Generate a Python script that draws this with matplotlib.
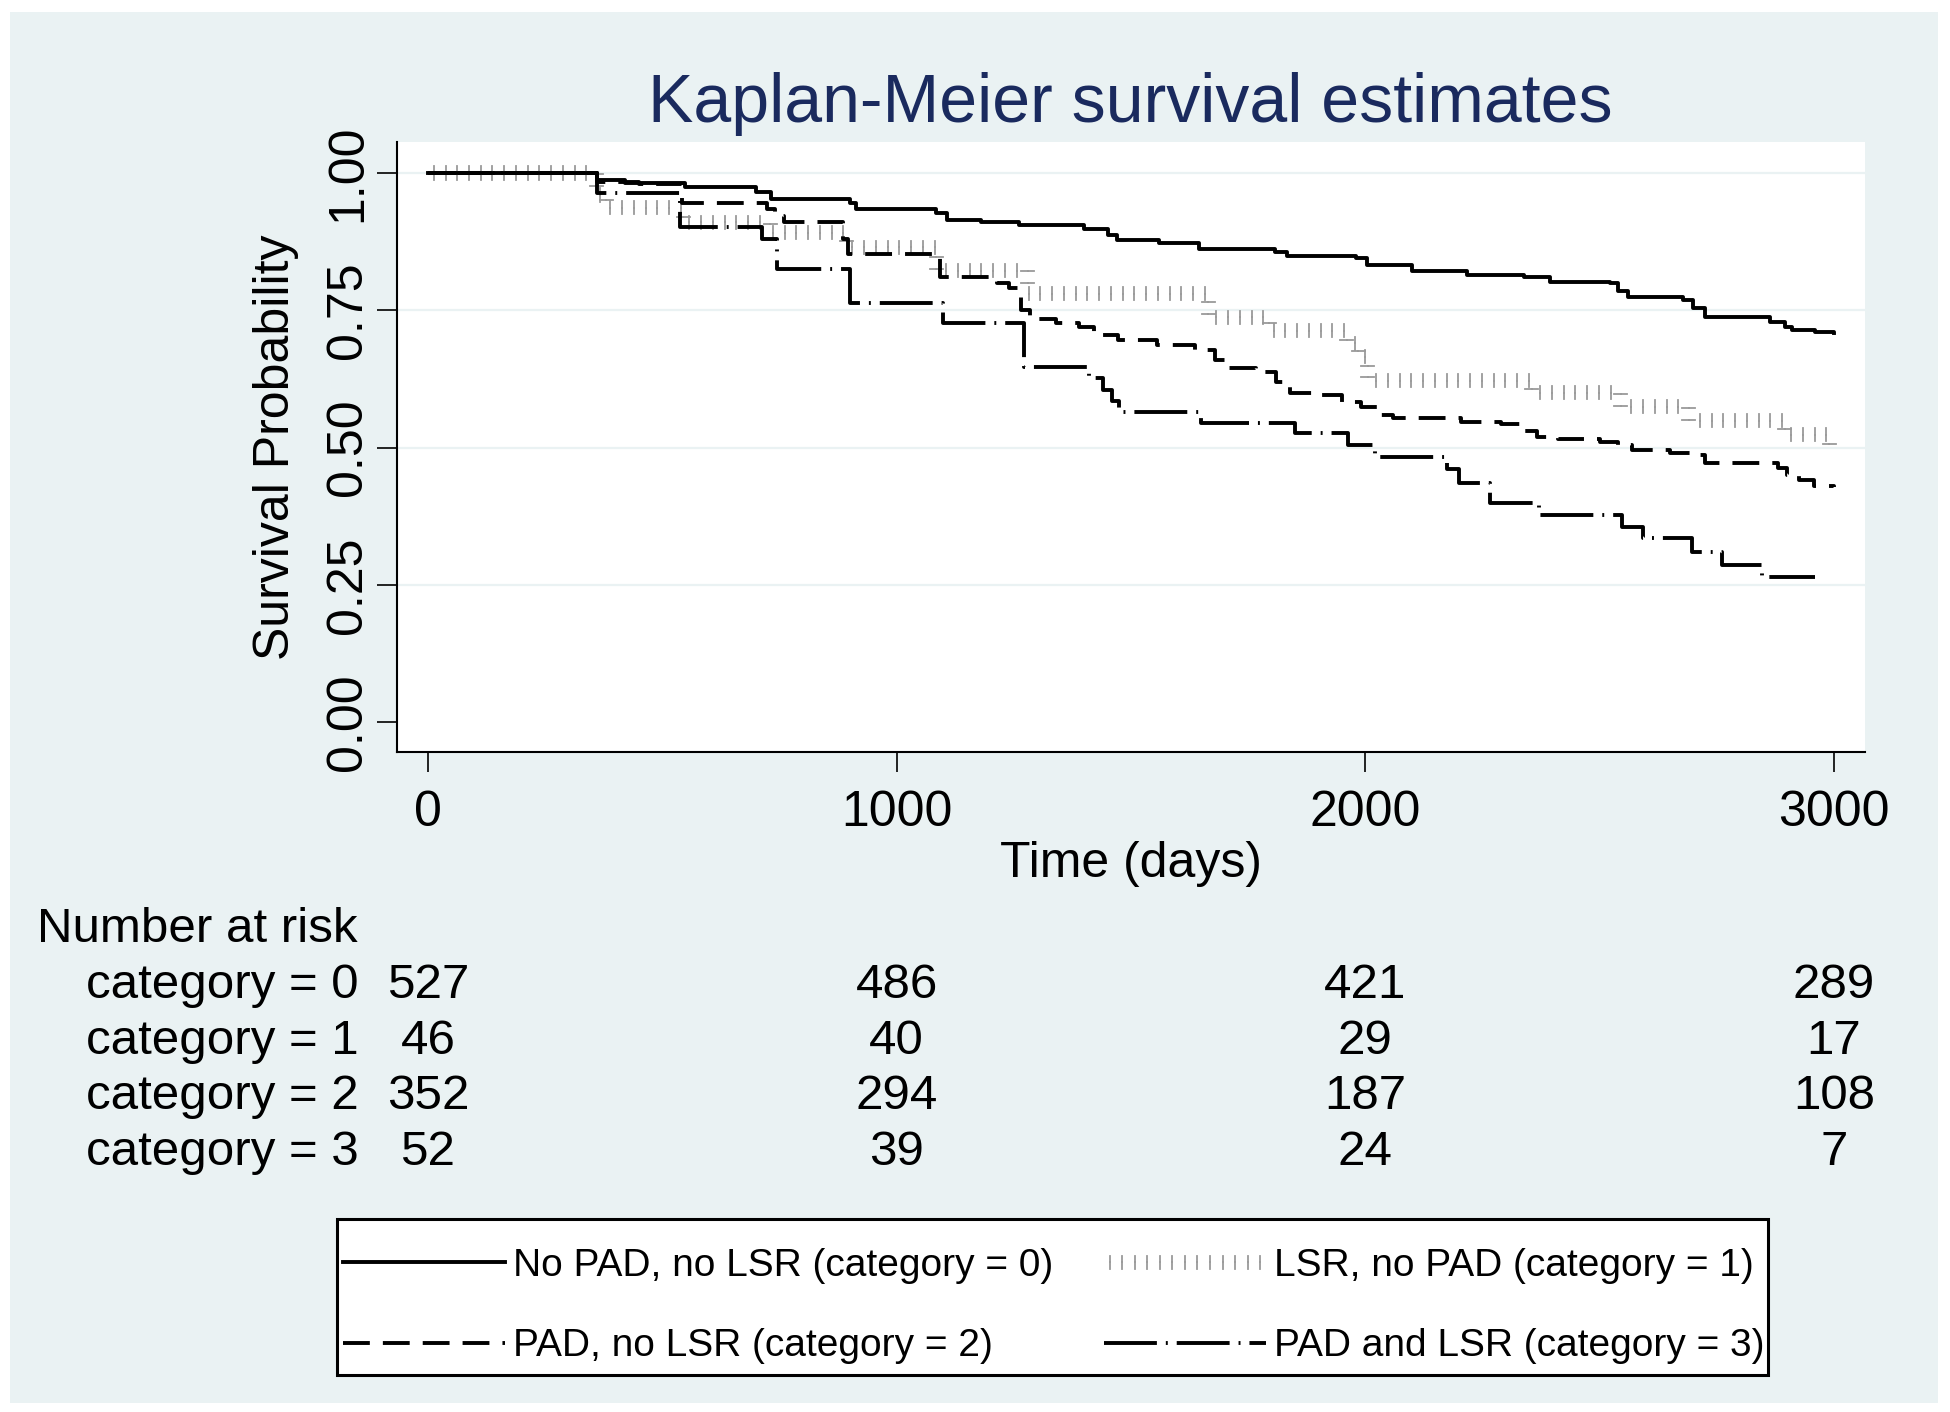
import matplotlib.pyplot as plt
from matplotlib import patheffects
from matplotlib.patches import Rectangle
from matplotlib.transforms import blended_transform_factory

plt.rcParams['font.family'] = ['Liberation Sans', 'DejaVu Sans']

# Kaplan-Meier steps (days, survival probability)
t_cat0 = [0, 360, 420, 548, 700, 733, 900, 914, 1085, 1107, 1180, 1260,
          1400, 1450, 1470, 1560, 1645, 1808, 1832, 1979, 2004, 2100, 2216, 2339, 2394,
          2522, 2540, 2560, 2678, 2700, 2725, 2863, 2895, 2910, 2960, 3000]
s_cat0 = [1.0, 0.988, 0.982, 0.975, 0.965, 0.952, 0.945, 0.934, 0.928,
          0.914, 0.91, 0.905, 0.898, 0.888, 0.878, 0.872, 0.862, 0.857, 0.848, 0.845,
          0.832, 0.822, 0.814, 0.81, 0.802, 0.8, 0.785, 0.775, 0.769, 0.755, 0.737,
          0.729, 0.72, 0.714, 0.71, 0.708]

t_cat1 = [0, 360, 380, 545, 730, 893, 1085, 1280, 1665, 1795, 1960, 1985, 2005, 2355,
          2545, 2690, 2895, 2990, 3000]
s_cat1 = [1.0, 0.96, 0.937, 0.91, 0.891, 0.865, 0.822, 0.78, 0.737, 0.713, 0.69,
          0.665, 0.622, 0.6, 0.574, 0.549, 0.523, 0.505, 0.505]

t_cat2 = [0, 360, 450, 541, 723, 740, 760, 885, 897, 1092, 1215, 1240, 1265, 1285, 1340,
          1390, 1420, 1473, 1555, 1636, 1680, 1710, 1767, 1810, 1840, 1902, 1950, 1990,
          2030, 2060, 2204, 2290, 2330, 2367, 2412, 2500, 2540, 2569, 2650, 2700, 2725,
          2880, 2900, 2925, 2957, 3000]
s_cat2 = [1.0, 0.984, 0.98, 0.946, 0.935, 0.922, 0.91, 0.88, 0.852, 0.811, 0.8, 0.79,
          0.75, 0.735, 0.727, 0.72, 0.705, 0.695, 0.687, 0.678, 0.66, 0.645, 0.637, 0.62,
          0.6, 0.595, 0.583, 0.574, 0.56, 0.553, 0.547, 0.542, 0.53, 0.52, 0.516, 0.51,
          0.505, 0.495, 0.49, 0.486, 0.472, 0.463, 0.45, 0.44, 0.43, 0.428]

t_cat3 = [0, 360, 538, 712, 744, 900, 1098, 1271, 1410, 1440, 1460, 1475, 1649, 1849,
          1963, 2020, 2175, 2200, 2265, 2371, 2547, 2593, 2696, 2760, 2846, 2960]
s_cat3 = [1.0, 0.963, 0.902, 0.88, 0.825, 0.763, 0.726, 0.647, 0.627, 0.605, 0.585,
          0.565, 0.545, 0.526, 0.505, 0.483, 0.46, 0.435, 0.3995, 0.377, 0.356, 0.335,
          0.31, 0.286, 0.265, 0.265]

# number at risk table
at_risk_days = [0, 1000, 2000, 3000]
risk_cat0 = [527, 486, 421, 289]
risk_cat1 = [46, 40, 29, 17]
risk_cat2 = [352, 294, 187, 108]
risk_cat3 = [52, 39, 24, 7]

labels = ['No PAD, no LSR (category = 0)', 'LSR, no PAD (category = 1)',
          'PAD, no LSR (category = 2)', 'PAD and LSR (category = 3)']
row_names = ['category = 0', 'category = 1', 'category = 2', 'category = 3']

x_ticks = [0, 1000, 2000, 3000]
y_ticks = [0, 0.25, 0.5, 0.75, 1.0]
y_ticklabels = ['0.00', '0.25', '0.50', '0.75', '1.00']
grid_levels = [0.25, 0.5, 0.75, 1.0]

bg = '#eaf2f3'
W, H = 1950, 1412

fig = plt.figure(figsize=(19.5, 14.12), dpi=100, facecolor='white')
# light bluish-gray graph region with a thin white margin
fig.add_artist(Rectangle((10 / W, 9 / H), 1928 / W, 1391 / H, transform=fig.transFigure,
                         facecolor=bg, edgecolor='none', zorder=-10))

ax = fig.add_axes([397 / W, 660 / H, 1468 / W, 610 / H])
ax.set_facecolor('white')
ax.set_xlim(-66, 3066)
ax.set_ylim(-0.0546, 1.0565)

for g in grid_levels:
    ax.axhline(g, color=bg, lw=1.6, zorder=1)

h0, = ax.step(t_cat0, s_cat0, where='post', color='black', lw=2.8, zorder=3)
# category 1 is drawn as a row of small gray ticks (Stata's dotted pattern)
h1, = ax.step(t_cat1, s_cat1, where='post', color='#9a9a9a', lw=1.3, zorder=3)
h1.set_path_effects([patheffects.TickedStroke(spacing=8.4, angle=90, length=0.56),
                     patheffects.TickedStroke(spacing=8.4, angle=-90, length=0.56)])
h2, = ax.step(t_cat2, s_cat2, where='post', color='black', lw=2.8, dashes=(6.9, 3.35),
              zorder=3)
h3, = ax.step(t_cat3, s_cat3, where='post', color='black', lw=2.8,
              dashes=(13.6, 2.3, 0.5, 2.3), zorder=3)

ax.set_xticks(x_ticks)
ax.set_yticks(y_ticks)
ax.set_yticklabels(y_ticklabels)
ax.tick_params(axis='x', length=14.4, width=1.2, pad=13, labelsize=36)
ax.tick_params(axis='y', length=14.4, width=1.2, pad=4.3, labelsize=36, labelrotation=90)
for lab in ax.get_yticklabels():
    lab.set_va('center')
ax.spines[['top', 'right']].set_visible(False)
ax.spines[['left', 'bottom']].set_linewidth(1.5)

ax.set_xlabel('Time (days)', fontsize=36)
ax.xaxis.set_label_coords(0.5, -0.1459)
ax.set_ylabel('Survival Probability', fontsize=36)
ax.yaxis.set_label_coords(-0.0668, 0.5)

fig.text(1130 / W, 1 - 122 / H, 'Kaplan-Meier survival estimates', ha='center',
         va='baseline', fontsize=49, color='#1a2a5e')

# Number at risk
trans = blended_transform_factory(ax.transData, fig.transFigure)
fig.text(37 / W, 1 - 942 / H, 'Number at risk', fontsize=35.5, va='baseline')
risk_rows = [risk_cat0, risk_cat1, risk_cat2, risk_cat3]
for i, (name, counts) in enumerate(zip(row_names, risk_rows)):
    yb = 1 - (998 + i * 55.7) / H
    fig.text(86 / W, yb, name, fontsize=35.5, va='baseline')
    for day, n in zip(at_risk_days, counts):
        ax.text(day, yb, str(n), transform=trans, ha='center', va='baseline', fontsize=35.5)

# legend box drawn on its own, entries filled row by row
fig.add_artist(Rectangle((337 / W, 1 - 1375 / H), 1431 / W, 156 / H,
                         transform=fig.transFigure, facecolor='white',
                         edgecolor='black', lw=2.2, zorder=4))
leg = fig.legend([h0, h2, h1, h3], [labels[0], labels[2], labels[1], labels[3]],
                 ncol=2, loc='center', bbox_to_anchor=(1053.5 / W, 1 - 1306 / H),
                 fontsize=28, frameon=False, handlelength=4.17, handletextpad=0.2,
                 columnspacing=1.31, labelspacing=1.14, borderpad=0.2)
leg.set_zorder(5)

fig.savefig('out.png', dpi=100, facecolor='white')
